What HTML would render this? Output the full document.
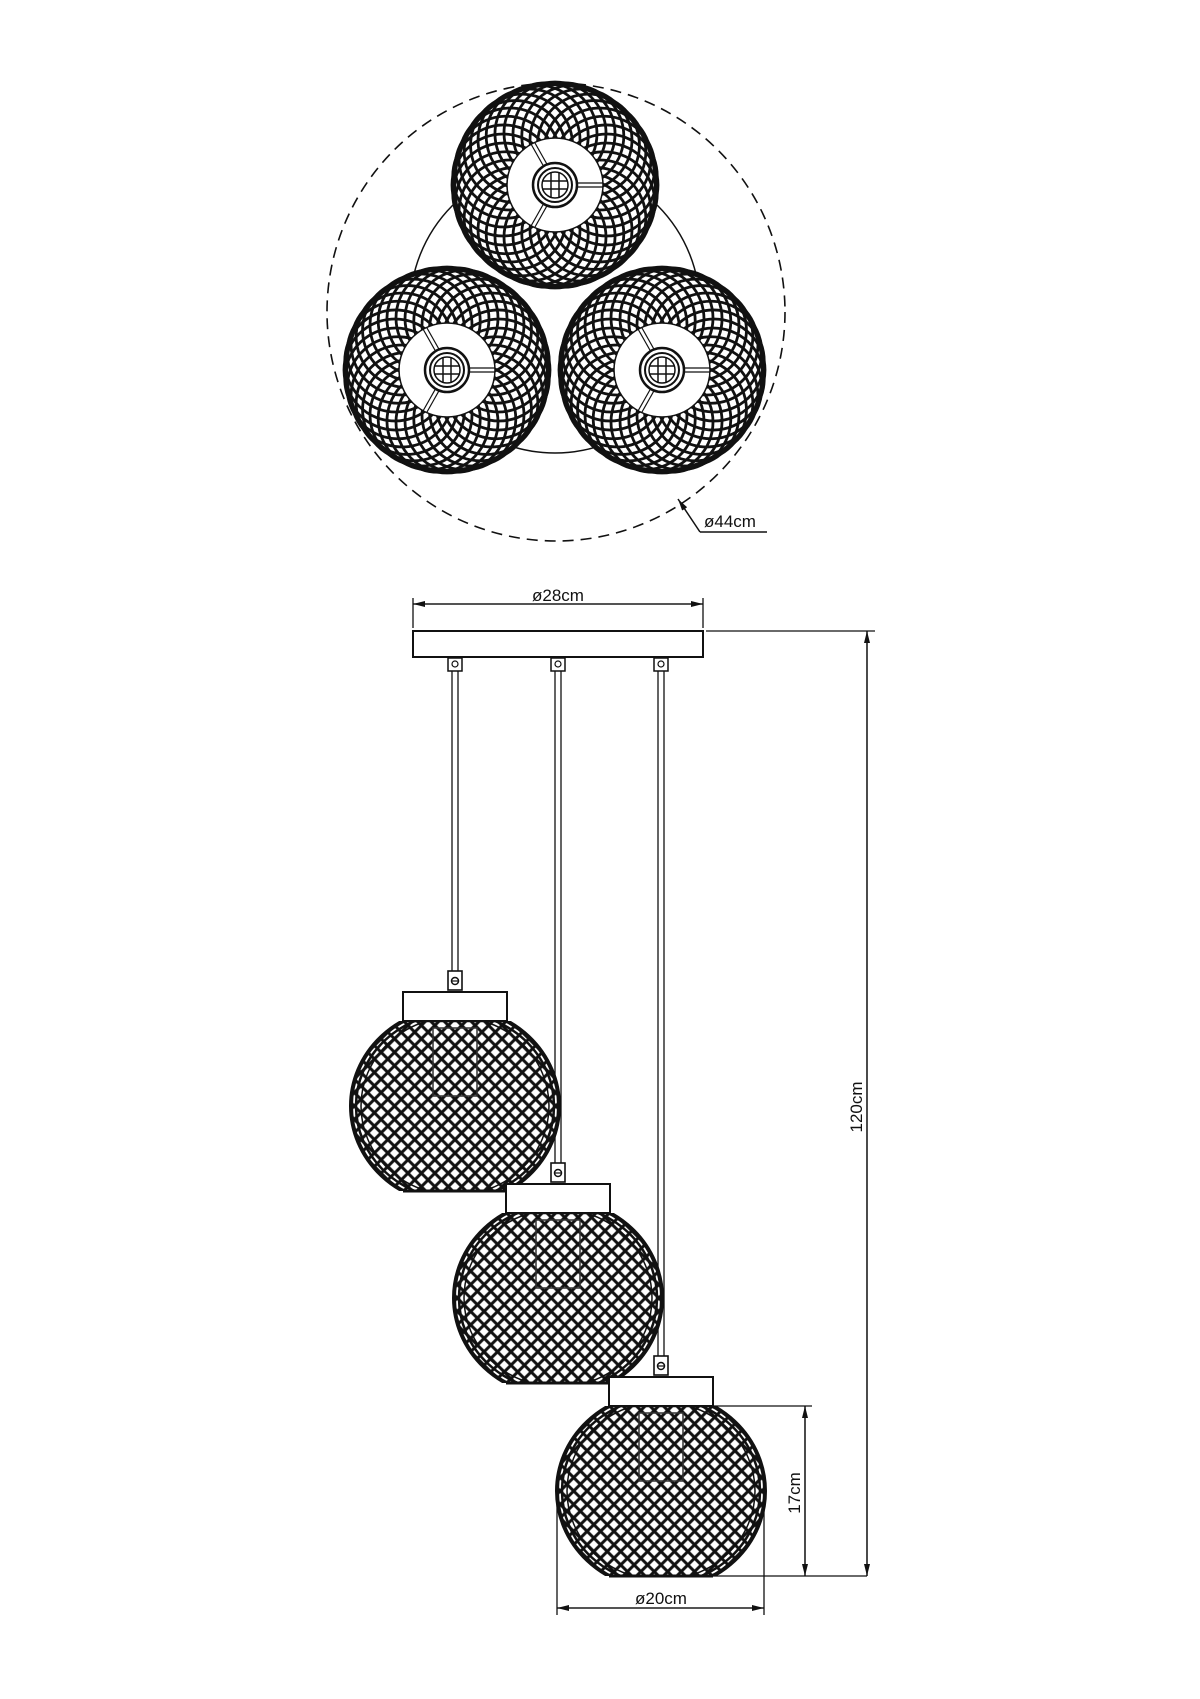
<!DOCTYPE html>
<html><head><meta charset="utf-8"><style>
html,body{margin:0;padding:0;background:#fff;}
svg{display:block;}
text{font-family:"Liberation Sans",sans-serif;fill:#111;}
</style></head><body>
<svg width="1200" height="1699" viewBox="0 0 1200 1699" xmlns="http://www.w3.org/2000/svg">
<defs>
<g id="ros" fill="none" stroke="#111" stroke-width="2.8">
<circle cx="52" cy="0" r="51" transform="rotate(0)"/>
<circle cx="52" cy="0" r="51" transform="rotate(10)"/>
<circle cx="52" cy="0" r="51" transform="rotate(20)"/>
<circle cx="52" cy="0" r="51" transform="rotate(30)"/>
<circle cx="52" cy="0" r="51" transform="rotate(40)"/>
<circle cx="52" cy="0" r="51" transform="rotate(50)"/>
<circle cx="52" cy="0" r="51" transform="rotate(60)"/>
<circle cx="52" cy="0" r="51" transform="rotate(70)"/>
<circle cx="52" cy="0" r="51" transform="rotate(80)"/>
<circle cx="52" cy="0" r="51" transform="rotate(90)"/>
<circle cx="52" cy="0" r="51" transform="rotate(100)"/>
<circle cx="52" cy="0" r="51" transform="rotate(110)"/>
<circle cx="52" cy="0" r="51" transform="rotate(120)"/>
<circle cx="52" cy="0" r="51" transform="rotate(130)"/>
<circle cx="52" cy="0" r="51" transform="rotate(140)"/>
<circle cx="52" cy="0" r="51" transform="rotate(150)"/>
<circle cx="52" cy="0" r="51" transform="rotate(160)"/>
<circle cx="52" cy="0" r="51" transform="rotate(170)"/>
<circle cx="52" cy="0" r="51" transform="rotate(180)"/>
<circle cx="52" cy="0" r="51" transform="rotate(190)"/>
<circle cx="52" cy="0" r="51" transform="rotate(200)"/>
<circle cx="52" cy="0" r="51" transform="rotate(210)"/>
<circle cx="52" cy="0" r="51" transform="rotate(220)"/>
<circle cx="52" cy="0" r="51" transform="rotate(230)"/>
<circle cx="52" cy="0" r="51" transform="rotate(240)"/>
<circle cx="52" cy="0" r="51" transform="rotate(250)"/>
<circle cx="52" cy="0" r="51" transform="rotate(260)"/>
<circle cx="52" cy="0" r="51" transform="rotate(270)"/>
<circle cx="52" cy="0" r="51" transform="rotate(280)"/>
<circle cx="52" cy="0" r="51" transform="rotate(290)"/>
<circle cx="52" cy="0" r="51" transform="rotate(300)"/>
<circle cx="52" cy="0" r="51" transform="rotate(310)"/>
<circle cx="52" cy="0" r="51" transform="rotate(320)"/>
<circle cx="52" cy="0" r="51" transform="rotate(330)"/>
<circle cx="52" cy="0" r="51" transform="rotate(340)"/>
<circle cx="52" cy="0" r="51" transform="rotate(350)"/>
<circle cx="0" cy="0" r="101" stroke-width="4"/>
</g>
<g id="topglobe">
<circle cx="0" cy="0" r="103" fill="#fff"/>
<use href="#ros"/>
<ellipse cx="0" cy="0" rx="48" ry="47" fill="#fff" stroke="#111" stroke-width="1.5"/>
<g stroke="#111" stroke-width="1.2" fill="none">
<line x1="20" y1="-2" x2="48" y2="-2"/><line x1="20" y1="2" x2="48" y2="2"/>
<line x1="-11" y1="18" x2="-24" y2="41"/><line x1="-7" y1="19" x2="-20" y2="42"/>
<line x1="-11" y1="-18" x2="-24" y2="-41"/><line x1="-7" y1="-19" x2="-20" y2="-42"/>
</g>
<circle r="22" fill="#fff" stroke="#111" stroke-width="2.5"/>
<circle r="17" fill="none" stroke="#111" stroke-width="2"/>
<circle r="13" fill="none" stroke="#111" stroke-width="1.5"/>
<g stroke="#111" stroke-width="1.5">
<line x1="-13" y1="-4" x2="13" y2="-4"/><line x1="-13" y1="4" x2="13" y2="4"/>
<line x1="-4" y1="-13" x2="-4" y2="13"/><line x1="4" y1="-13" x2="4" y2="13"/>
</g>
</g>
<pattern id="mesh" patternUnits="userSpaceOnUse" width="9.5" height="9.5" patternTransform="rotate(45)">
<rect width="9.5" height="9.5" fill="#fff"/>
<line x1="0" y1="4.75" x2="9.5" y2="4.75" stroke="#111" stroke-width="3"/>
<line x1="4.75" y1="0" x2="4.75" y2="9.5" stroke="#111" stroke-width="3"/>
</pattern>
<clipPath id="gc"><rect x="-110" y="-85" width="220" height="170"/></clipPath>
<g id="sideglobe">
<g clip-path="url(#gc)">
<ellipse cx="0" cy="0" rx="104" ry="98" fill="url(#mesh)" stroke="#111" stroke-width="4"/>
<ellipse cx="0" cy="0" rx="99" ry="93" fill="none" stroke="#111" stroke-width="2.5"/>
<ellipse cx="0" cy="0" rx="94" ry="89" fill="none" stroke="#111" stroke-width="1.5"/>
</g>
<line x1="-52" y1="-85" x2="52" y2="-85" stroke="#111" stroke-width="2.5"/>
<line x1="-52" y1="85" x2="52" y2="85" stroke="#111" stroke-width="3"/>
<rect x="-22" y="-78" width="44" height="68" fill="none" stroke="#333" stroke-width="1.5"/>
<rect x="-52" y="-114" width="104" height="29" fill="#fff" stroke="#111" stroke-width="2"/>
<rect x="-7" y="-135" width="14" height="19" fill="#fff" stroke="#111" stroke-width="1.6"/>
<circle cx="0" cy="-125" r="3.5" fill="none" stroke="#111" stroke-width="1.5"/>
<line x1="-3" y1="-125" x2="3" y2="-125" stroke="#111" stroke-width="1.2"/>
</g>
<marker id="ar" viewBox="0 0 12 6" refX="12" refY="3" markerWidth="12" markerHeight="6" orient="auto" markerUnits="userSpaceOnUse">
<path d="M0,0 L12,3 L0,6 Z" fill="#111"/>
</marker>
</defs>

<!-- TOP VIEW -->
<circle cx="556" cy="312" r="229" fill="none" stroke="#111" stroke-width="1.6" stroke-dasharray="11,7"/>
<circle cx="555" cy="308" r="145" fill="none" stroke="#111" stroke-width="1.5"/>
<use href="#topglobe" transform="translate(555,185)"/>
<use href="#topglobe" transform="translate(447,370)"/>
<use href="#topglobe" transform="translate(662,370)"/>
<polyline points="700,532 767,532" fill="none" stroke="#111" stroke-width="1.5"/>
<line x1="700" y1="532" x2="678" y2="499" stroke="#111" stroke-width="1.5" marker-end="url(#ar)"/>
<text x="704" y="527" font-size="17">ø44cm</text>

<!-- SIDE VIEW -->
<g stroke="#111" stroke-width="1.3">
<line x1="452" y1="670" x2="452" y2="972"/><line x1="458" y1="670" x2="458" y2="972"/>
<line x1="555" y1="670" x2="555" y2="1163"/><line x1="561" y1="670" x2="561" y2="1163"/>
<line x1="658" y1="670" x2="658" y2="1357"/><line x1="664" y1="670" x2="664" y2="1357"/>
</g>
<rect x="413" y="631" width="290" height="26" fill="#fff" stroke="#111" stroke-width="2"/>
<g fill="#fff" stroke="#111" stroke-width="1.5">
<rect x="448" y="658" width="14" height="13"/><rect x="551" y="658" width="14" height="13"/><rect x="654" y="658" width="14" height="13"/>
</g>
<g fill="none" stroke="#111" stroke-width="1.2">
<circle cx="455" cy="664" r="3"/><circle cx="558" cy="664" r="3"/><circle cx="661" cy="664" r="3"/>
</g>
<use href="#sideglobe" transform="translate(455,1106)"/>
<use href="#sideglobe" transform="translate(558,1298)"/>
<use href="#sideglobe" transform="translate(661,1491)"/>

<g stroke="#111" stroke-width="1.3" fill="none">
<line x1="413" y1="598" x2="413" y2="628"/><line x1="703" y1="598" x2="703" y2="628"/>
<line x1="413" y1="604" x2="703" y2="604" marker-end="url(#ar)"/>
<line x1="703" y1="604" x2="413" y2="604" marker-end="url(#ar)"/>
<line x1="706" y1="631" x2="875" y2="631"/>
<line x1="867" y1="631" x2="867" y2="1576" marker-end="url(#ar)"/>
<line x1="867" y1="1576" x2="867" y2="631" marker-end="url(#ar)"/>
<line x1="714" y1="1406" x2="812" y2="1406"/>
<line x1="805" y1="1406" x2="805" y2="1576" marker-end="url(#ar)"/>
<line x1="805" y1="1576" x2="805" y2="1406" marker-end="url(#ar)"/>
<line x1="712" y1="1576" x2="867" y2="1576"/>
<line x1="557" y1="1500" x2="557" y2="1615"/><line x1="764" y1="1500" x2="764" y2="1615"/>
<line x1="557" y1="1608" x2="764" y2="1608" marker-end="url(#ar)"/>
<line x1="764" y1="1608" x2="557" y2="1608" marker-end="url(#ar)"/>
</g>
<text x="558" y="601" font-size="17" text-anchor="middle">ø28cm</text>
<text x="661" y="1604" font-size="17" text-anchor="middle">ø20cm</text>
<text transform="translate(862,1107) rotate(-90)" font-size="17" text-anchor="middle">120cm</text>
<text transform="translate(800,1493) rotate(-90)" font-size="17" text-anchor="middle">17cm</text>
</svg>
</body></html>
